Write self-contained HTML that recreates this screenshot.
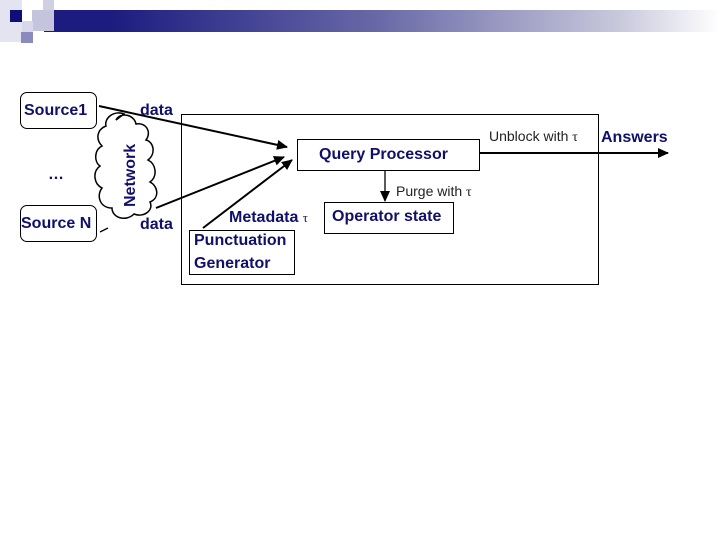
<!DOCTYPE html>
<html><head><style>
body{margin:0;width:720px;height:540px;background:#fff;overflow:hidden;position:relative;font-family:"Liberation Sans",sans-serif}
.a{position:absolute}
.t{position:absolute;color:#10106a;font-size:16px;font-weight:bold;white-space:nowrap}
.b{position:absolute;border:1px solid #000;box-sizing:border-box}
</style></head><body>
<div class="a" style="left:44px;top:10px;width:676px;height:22px;background:linear-gradient(90deg,#1c1c80 0%,#1c1c80 10%,#6a6aa8 50%,#c8c8dc 85%,#fff 100%)"></div>
<div class="a" style="left:0;top:0;width:22px;height:42px;background:#e4e4f0"></div>
<div class="a" style="left:10px;top:10px;width:12px;height:12px;background:#0e0e7a"></div>
<div class="a" style="left:32px;top:10px;width:22px;height:21px;background:#c4c4dc"></div>
<div class="a" style="left:43px;top:0;width:11px;height:10px;background:#d0d0e4"></div>
<div class="a" style="left:22px;top:21px;width:11px;height:11px;background:#d8d8ea"></div>
<div class="a" style="left:21px;top:32px;width:12px;height:11px;background:#8a8abc"></div>

<div class="b" style="left:20px;top:92px;width:77px;height:37px;border-radius:7px"></div>
<div class="t" style="left:24px;top:102px">Source1</div>
<div class="b" style="left:20px;top:205px;width:77px;height:37px;border-radius:7px"></div>
<div class="t" style="left:21px;top:215px">Source N</div>
<div class="t" style="left:48px;top:166px">…</div>
<div class="t" style="left:140px;top:102px">data</div>
<div class="t" style="left:140px;top:216px">data</div>

<div class="b" style="left:181px;top:114px;width:418px;height:171px"></div>
<div class="b" style="left:297px;top:139px;width:183px;height:32px"></div>
<div class="t" style="left:319px;top:146px">Query Processor</div>
<div class="b" style="left:324px;top:202px;width:130px;height:32px"></div>
<div class="t" style="left:332px;top:208px">Operator state</div>
<div class="b" style="left:189px;top:230px;width:106px;height:45px;background:#fff"></div>
<div class="t" style="left:194px;top:232px">Punctuation</div>
<div class="t" style="left:194px;top:255px">Generator</div>
<div class="t" style="left:229px;top:209px">Metadata <span style="font-family:'Liberation Serif',serif;font-size:13px;font-weight:normal">τ</span></div>
<div class="t" style="left:396px;top:183px;font-size:14px;color:#222;font-weight:normal">Purge with <span style="font-family:'Liberation Serif',serif">τ</span></div>
<div class="t" style="left:489px;top:128px;font-size:14px;color:#222;font-weight:normal">Unblock with <span style="font-family:'Liberation Serif',serif">τ</span></div>
<div class="t" style="left:601px;top:129px">Answers</div>

<svg class="a" style="left:0;top:0" width="720" height="540">
<defs><marker id="m" markerWidth="11" markerHeight="10" refX="10" refY="5" orient="auto" markerUnits="userSpaceOnUse"><path d="M0,0L11,5L0,10z" fill="#000"/></marker></defs>
<path d="M124,114c-10,-4 -20,4 -18,12c-10,4 -10,14 -4,20c-8,4 -8,16 -2,20c-8,6 -6,18 2,22c-6,8 -2,20 10,20c0,10 14,14 22,6c10,4 20,-4 16,-12c10,-4 8,-16 0,-20c8,-6 6,-18 -2,-22c8,-6 6,-18 -2,-20c6,-8 0,-18 -10,-16c-2,-10 -16,-12 -20,-4z" fill="#fff" stroke="#000" stroke-width="1.5"/>
<text x="0" y="0" transform="translate(135,207) rotate(-90)" font-family="Liberation Sans" font-size="16" font-weight="bold" fill="#10106a">Network</text>
<g stroke="#000" stroke-width="2" fill="none">
<line x1="99" y1="106" x2="287" y2="147" marker-end="url(#m)"/>
<line x1="156" y1="208" x2="284" y2="157" marker-end="url(#m)"/>
<line x1="203" y1="228" x2="292" y2="160" marker-end="url(#m)"/>
<line x1="480" y1="153" x2="668" y2="153" marker-end="url(#m)"/>
<line x1="385" y1="171" x2="385" y2="201" stroke-width="1.3" marker-end="url(#m)"/>
<line x1="108" y1="228" x2="100" y2="232" stroke-width="1.3"/>
</g>
</svg>
</body></html>
